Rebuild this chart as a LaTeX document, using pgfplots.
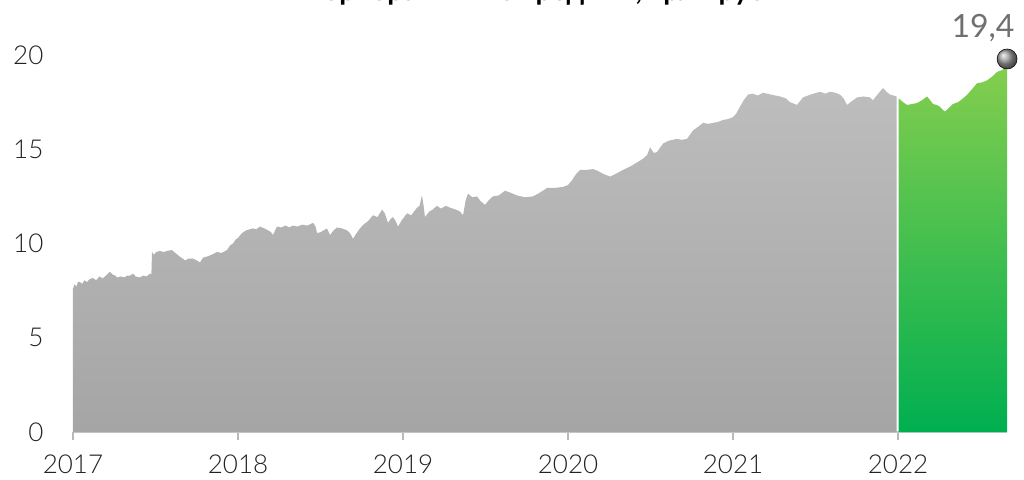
\documentclass[border=0pt]{standalone}
\usepackage{fontspec}
\IfFontExistsTF{Lato Light}{\setmainfont{Lato Light}[BoldFont=Lato Bold]}{\setmainfont{Lato}}
\newfontfamily\titlefont{Lato Bold}
\newfontfamily\regfont{Lato}
\usepackage{pgfplots}
\pgfplotsset{compat=1.18}
\usepackage{pgfplotstable}
\definecolor{gtop}{HTML}{BDBDBD}
\definecolor{gbot}{HTML}{A5A5A5}
\definecolor{ntop}{HTML}{84CE4E}
\definecolor{nbot}{HTML}{00AF50}
\definecolor{axgray}{HTML}{C8C8C8}
\definecolor{txt}{HTML}{222222}
\definecolor{lbl}{HTML}{707070}
\pgfplotstableread{
x y
0.000 7.60
0.010 7.85
0.020 7.70
0.030 7.95
0.042 7.96
0.055 7.85
0.070 8.05
0.085 7.95
0.100 8.10
0.121 8.17
0.140 8.05
0.160 8.25
0.180 8.15
0.200 8.30
0.224 8.50
0.240 8.35
0.255 8.30
0.267 8.20
0.290 8.25
0.310 8.20
0.330 8.30
0.345 8.30
0.364 8.40
0.380 8.25
0.406 8.20
0.425 8.30
0.445 8.25
0.467 8.40
0.475 8.35
0.479 9.55
0.490 9.40
0.505 9.55
0.527 9.60
0.550 9.55
0.575 9.62
0.600 9.65
0.620 9.50
0.648 9.30
0.665 9.20
0.679 9.10
0.700 9.20
0.727 9.20
0.750 9.10
0.770 9.00
0.788 9.25
0.810 9.30
0.840 9.40
0.873 9.55
0.900 9.50
0.933 9.65
0.952 9.90
0.970 10.00
0.985 10.20
1.000 10.30
1.024 10.55
1.050 10.70
1.070 10.75
1.091 10.80
1.110 10.75
1.133 10.90
1.160 10.80
1.182 10.70
1.200 10.60
1.212 10.45
1.236 10.90
1.260 10.85
1.290 10.95
1.310 10.85
1.333 10.95
1.360 10.90
1.390 11.00
1.420 10.95
1.455 11.10
1.470 10.90
1.479 10.55
1.500 10.60
1.539 10.80
1.558 10.45
1.580 10.70
1.600 10.85
1.630 10.80
1.660 10.70
1.679 10.55
1.697 10.25
1.715 10.50
1.739 10.80
1.760 11.00
1.790 11.20
1.818 11.50
1.845 11.40
1.873 11.80
1.890 11.60
1.909 11.10
1.925 11.30
1.939 11.40
1.955 11.20
1.970 10.90
1.990 11.20
2.024 11.60
2.050 11.50
2.085 11.90
2.100 12.00
2.115 12.55
2.125 12.00
2.133 11.40
2.160 11.70
2.180 11.80
2.206 12.00
2.230 11.85
2.260 12.00
2.285 11.90
2.320 11.80
2.345 11.70
2.364 11.50
2.380 12.30
2.394 12.65
2.420 12.45
2.448 12.50
2.470 12.25
2.497 12.05
2.520 12.30
2.545 12.50
2.580 12.55
2.618 12.80
2.650 12.70
2.691 12.55
2.740 12.45
2.788 12.50
2.830 12.70
2.873 12.95
2.920 12.95
2.970 13.00
3.000 13.10
3.024 13.35
3.050 13.70
3.073 13.90
3.110 13.90
3.152 13.95
3.180 13.85
3.212 13.70
3.255 13.55
3.290 13.70
3.333 13.90
3.380 14.10
3.418 14.30
3.455 14.50
3.480 14.70
3.497 15.10
3.520 14.80
3.539 14.85
3.576 15.30
3.610 15.45
3.661 15.55
3.690 15.50
3.721 15.55
3.758 16.00
3.790 16.20
3.818 16.40
3.850 16.35
3.879 16.40
3.910 16.45
3.939 16.55
3.970 16.60
4.000 16.70
4.020 16.90
4.042 17.25
4.065 17.60
4.091 17.90
4.120 17.95
4.150 17.85
4.182 18.00
4.230 17.90
4.285 17.80
4.320 17.70
4.345 17.50
4.388 17.35
4.424 17.75
4.470 17.90
4.527 18.05
4.560 17.95
4.588 18.05
4.620 18.00
4.648 17.90
4.670 17.70
4.691 17.35
4.720 17.55
4.752 17.75
4.790 17.80
4.830 17.75
4.848 17.60
4.880 17.95
4.909 18.25
4.930 18.05
4.952 17.90
4.992 17.80
}\grayseries
\pgfplotstableread{
x y
5.004 17.70
5.030 17.50
5.055 17.35
5.085 17.40
5.115 17.45
5.145 17.60
5.176 17.80
5.195 17.60
5.212 17.40
5.235 17.35
5.255 17.25
5.270 17.10
5.285 17.00
5.310 17.20
5.333 17.40
5.365 17.50
5.394 17.70
5.420 17.90
5.450 18.20
5.479 18.50
5.510 18.55
5.539 18.65
5.570 18.85
5.600 19.10
5.630 19.20
5.661 19.40
}\greenseries
\begin{document}
\begin{tikzpicture}
\useasboundingbox (-54.75pt,-35.25pt) rectangle (713.25pt,324pt);
\node[anchor=base, font=\titlefont\fontsize{21}{24}\selectfont] at (346.5pt,323.25pt) {Корпоративные кредиты, трлн руб};
\begin{axis}[
  at={(0,0)}, anchor=south west,
  scale only axis,
  width=700.55pt, height=282.75pt,
  xmin=0, xmax=5.661, ymin=0, ymax=20,
  clip=false,
  axis x line*=bottom,
  axis y line*=left,
  x axis line style={draw=axgray, line width=2.2pt},
  y axis line style={draw=none},
  xtick={0,1,2,3,4,5},
  xticklabels={2017,2018,2019,2020,2021,2022},
  ytick={0,5,10,15,20},
  yticklabels={0,5,10,15,20},
  tick align=outside,
  major tick length=6pt,
  xtick style={draw=gray!55, line width=0.8pt},
  ytick style={draw=none},
  /pgf/number format/assume math mode=true,
  ticklabel style={font=\fontsize{19.5}{22}\selectfont, text=txt},
  xticklabel style={anchor=north, inner sep=0pt, yshift=-11pt},
  yticklabel style={anchor=east, inner sep=0pt, xshift=-16pt},
]
\addplot[draw=none, top color=gtop, bottom color=gbot] table[x=x,y=y] {\grayseries} \closedcycle;
\addplot[draw=none, top color=ntop, bottom color=nbot] table[x=x,y=y] {\greenseries} \closedcycle;
\addplot[only marks, mark=ball, mark size=7.5pt, ball color=gray!75, mark options={yshift=5.5pt}] coordinates {(5.661,19.40)};
\node[anchor=base, text=lbl, font=\regfont\fontsize{24}{28}\selectfont] at (axis cs:5.515,20.95) {19,4};
\end{axis}
\end{tikzpicture}
\end{document}
